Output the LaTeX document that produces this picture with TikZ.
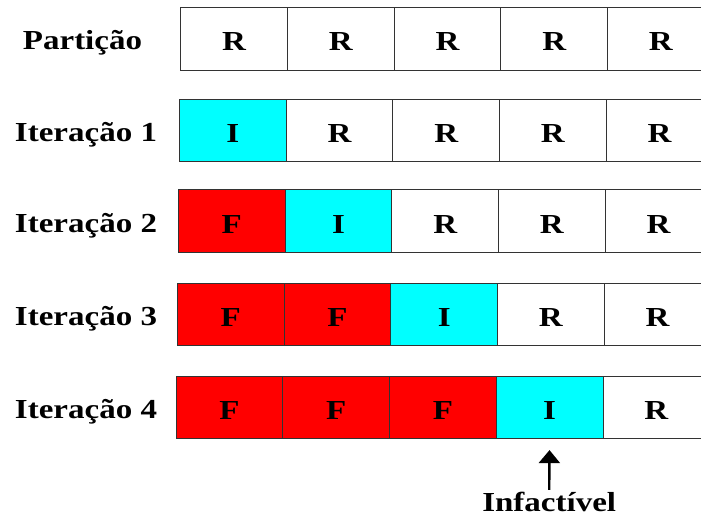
\documentclass[tikz,border=0pt]{standalone}
\usepackage{fontspec}
\setmainfont[FakeStretch=1.2]{Liberation Serif}
\usetikzlibrary{arrows.meta}
\definecolor{fixo}{RGB}{255,0,0}
\definecolor{atual}{RGB}{0,255,255}
\begin{document}
\begin{tikzpicture}[x=1pt,y=-1pt,
  font=\fontsize{27.5}{33}\selectfont\bfseries,
  cell/.style={draw=black!80, line width=0.9pt, minimum width=106.7pt,
    minimum height=62.5pt, inner sep=0pt, anchor=north west,
    text height=24pt, text depth=0pt},
  R/.style={cell, fill=white},
  I/.style={cell, fill=atual},
  F/.style={cell, fill=fixo},
  rowlabel/.style={anchor=base, inner sep=0pt}]
  \useasboundingbox (0,0) rectangle (701,517);
  \clip (0,0) rectangle (701,517);

  % partition row
  \node[rowlabel] (lp) at (82.5,49.8) {Partição};
  \foreach \t [count=\i from 0] in {R,R,R,R,R}
    \node[\t] (p\i) at (180.3+\i*106.7,7) {\t};

  % iteration 1
  \node[rowlabel] (l1) at (86,141.5) {Iteração 1};
  \foreach \t [count=\i from 0] in {I,R,R,R,R}
    \node[\t] (a\i) at (179+\i*106.7,98.7) {\t};

  % iteration 2
  \node[rowlabel] (l2) at (86,232) {Iteração 2};
  \foreach \t [count=\i from 0] in {F,I,R,R,R}
    \node[\t] (b\i) at (178+\i*106.7,189.3) {\t};

  % iteration 3
  \node[rowlabel] (l3) at (86,325.5) {Iteração 3};
  \foreach \t [count=\i from 0] in {F,F,I,R,R}
    \node[\t] (c\i) at (177+\i*106.7,282.7) {\t};

  % iteration 4
  \node[rowlabel] (l4) at (86,418.5) {Iteração 4};
  \foreach \t [count=\i from 0] in {F,F,F,I,R}
    \node[\t] (d\i) at (175.7+\i*106.7,375.7) {\t};

  % infeasible marker
  \node[anchor=base, inner sep=0pt] (inf) at (549.2,511.5) {Infactível};
  \draw[line width=2.4pt, shorten <=2pt, shorten >=11pt,
        -{Triangle[width=21pt,length=13pt]}] (inf.north) -- (d3.south);
\end{tikzpicture}
\end{document}
